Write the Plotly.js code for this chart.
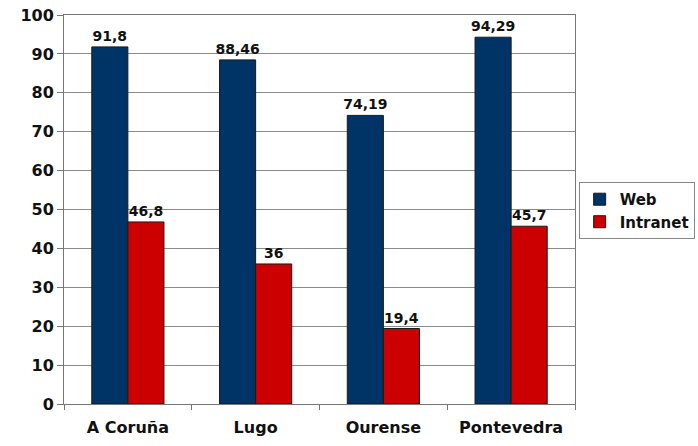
<!DOCTYPE html>
<html>
<head>
<meta charset="utf-8">
<script src="https://cdn.plot.ly/plotly-3.0.1.min.js"></script>
<style>
  html, body { margin: 0; padding: 0; background: #fff; }
  #chart { width: 698px; height: 446px; }
</style>
</head>
<body>
<div id="chart"></div>
<script>
// provincias
const provinces = ['A Coruña', 'Lugo', 'Ourense', 'Pontevedra'];
const webValues = [91.8, 88.46, 74.19, 94.29];
const intranetValues = [46.8, 36, 19.4, 45.7];
const yTicks = [0, 10, 20, 30, 40, 50, 60, 70, 80, 90, 100];

const FONT = 'DejaVu Sans, Verdana, sans-serif';

// labels use comma as decimal separator
const label = (v) => String(v).replace('.', ',');

const barStyle = (color) => ({
  color: color,
  line: { color: '#1a1a1a', width: 1 }
});

const data = [
  {
    type: 'bar',
    name: 'Web',
    x: provinces,
    y: webValues,
    text: webValues.map(label),
    textposition: 'outside',
    constraintext: 'none',
    cliponaxis: false,
    textfont: { family: FONT, size: 14, color: '#111', weight: 'bold' },
    marker: barStyle('#003366')
  },
  {
    type: 'bar',
    name: 'Intranet',
    x: provinces,
    y: intranetValues,
    text: intranetValues.map(label),
    textposition: 'outside',
    constraintext: 'none',
    cliponaxis: false,
    textfont: { family: FONT, size: 14, color: '#111', weight: 'bold' },
    marker: barStyle('#cc0000')
  }
];

const layout = {
  width: 698,
  height: 446,
  margin: { l: 64, r: 123, t: 15, b: 42 },
  paper_bgcolor: '#fff',
  plot_bgcolor: '#fff',
  barmode: 'group',
  bargap: 0.435,
  bargroupgap: 0,
  separators: ',.',
  font: { family: FONT, color: '#111' },
  xaxis: {
    type: 'category',
    tickson: 'boundaries',
    ticks: 'outside',
    ticklen: 5,
    tickcolor: '#777',
    ticklabelstandoff: 9,
    showline: true,
    linecolor: '#777',
    linewidth: 1,
    mirror: true,
    showgrid: false,
    tickfont: { family: FONT, size: 16, weight: 'bold', color: '#111' }
  },
  yaxis: {
    range: [0, 100],
    tickvals: yTicks,
    ticks: 'outside',
    ticklen: 6,
    tickcolor: '#777',
    showline: true,
    linecolor: '#777',
    linewidth: 1,
    mirror: true,
    showgrid: true,
    gridcolor: '#8a8a8a',
    gridwidth: 1,
    zeroline: false,
    tickfont: { family: FONT, size: 16, weight: 'bold', color: '#111' }
  },
  showlegend: true,
  legend: {
    xref: 'container',
    yref: 'container',
    x: 0.829,
    y: 0.592,
    xanchor: 'left',
    yanchor: 'top',
    bordercolor: '#888',
    borderwidth: 1,
    bgcolor: '#fff',
    font: { family: FONT, size: 15, weight: 'bold', color: '#111' },
    itemwidth: 30,
    tracegroupgap: 2
  }
};

Plotly.newPlot('chart', data, layout, { displayModeBar: false, staticPlot: true });
</script>
</body>
</html>
